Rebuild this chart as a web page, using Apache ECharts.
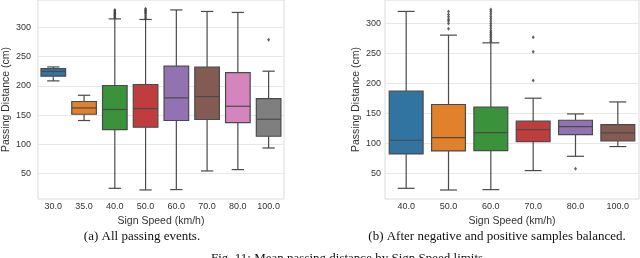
<!DOCTYPE html>
<html><head><meta charset="utf-8">
<script src="https://cdn.jsdelivr.net/npm/echarts@6/dist/echarts.min.js"></script>
<style>html,body{margin:0;padding:0;background:#fff}#c{width:640px;height:258px}</style>
</head><body><div id="c"></div>
<script>
// ---- Panel (a): all passing events ----
const categoriesA = ['30.0','35.0','40.0','50.0','60.0','70.0','80.0','100.0'];
const lowA    = [208.6, 140.8, 24.8, 22.0, 22.6, 54.5, 56.8, 93.8];
const q1A     = [216.6, 151.5, 125.3, 129.3, 140.8, 142.5, 137.3, 113.9];
const medA    = [225.0, 162.3, 159.6, 161.3, 179.5, 181.8, 165.2, 143.0];
const q3A     = [229.8, 173.3, 200.7, 202.4, 233.7, 232.0, 222.9, 178.4];
const highA   = [232.5, 184.0, 314.7, 313.7, 330.0, 327.4, 325.7, 225.2];
const outliersA = [
  [2,316],[2,318],[2,320],[2,322],[2,324],[2,326],[2,328],[2,330],
  [3,315],[3,318],[3,321],[3,324],[3,326],[3,328],[3,330],[3,332],
  [7,279]
];
// ---- Panel (b): balanced samples ----
const categoriesB = ['40.0','50.0','60.0','70.0','80.0','100.0'];
const lowB    = [25.5, 22.7, 23.3, 55.0, 78.8, 95.0];
const q1B     = [82.7, 87.7, 88.3, 103.3, 115.0, 104.3];
const medB    = [105.5, 110.0, 118.3, 123.3, 128.3, 117.7];
const q3B     = [187.2, 165.0, 160.5, 137.2, 138.8, 131.6];
const highB   = [320.0, 280.5, 267.7, 175.5, 149.3, 169.3];
const outliersB = [
  [1,291],[1,300],[1,304],[1,307],[1,311],[1,315],[1,320],
  [2,270],[2,273],[2,276],[2,279],[2,282],[2,285],[2,288],[2,292],[2,296],[2,300],[2,304],[2,308],[2,312],[2,316],[2,320],[2,323],
  [3,205],[3,253],[3,277],
  [4,58]
];
const yTicks = [50,100,150,200,250,300];

const palette = ['#3274a1','#e1812c','#3a923a','#c03d3e','#9372b2','#845b53','#d684bd','#7f7f7f'];
const lineColor = '#4a4a4a';

function boxData(low,q1,med,q3,high){
  return low.map((v,i)=>[i, v, q1[i], med[i], q3[i], high[i]]);
}
function renderBox(params, api){
  const i = api.value(0);
  const pLow = api.coord([i, api.value(1)]);
  const pQ1 = api.coord([i, api.value(2)]);
  const pMed = api.coord([i, api.value(3)]);
  const pQ3 = api.coord([i, api.value(4)]);
  const pHigh = api.coord([i, api.value(5)]);
  const w = api.size([1,0])[0]*0.8;
  const x = pQ1[0];
  const ls = {stroke: lineColor, lineWidth: 1.2};
  return {type:'group', children:[
    {type:'line', shape:{x1:x,y1:pLow[1],x2:x,y2:pQ1[1]}, style:ls},
    {type:'line', shape:{x1:x,y1:pQ3[1],x2:x,y2:pHigh[1]}, style:ls},
    {type:'line', shape:{x1:x-w/4,y1:pLow[1],x2:x+w/4,y2:pLow[1]}, style:ls},
    {type:'line', shape:{x1:x-w/4,y1:pHigh[1],x2:x+w/4,y2:pHigh[1]}, style:ls},
    {type:'rect', shape:{x:x-w/2,y:pQ3[1],width:w,height:pQ1[1]-pQ3[1]}, style:{fill:palette[i], stroke:lineColor, lineWidth:1.2}},
    {type:'line', shape:{x1:x-w/2,y1:pMed[1],x2:x+w/2,y2:pMed[1]}, style:ls}
  ]};
}

const font = 'Liberation Sans, Arial, sans-serif';
function xAxisCfg(cats, gi){
  return {type:'category', gridIndex:gi, data:cats, boundaryGap:true,
    axisLine:{show:false}, axisTick:{show:false}, splitLine:{show:false},
    axisLabel:{fontSize:9, color:'#333', fontFamily:font, margin:3},
    name:'Sign Speed (km/h)', nameLocation:'middle', nameGap:9,
    nameTextStyle:{fontSize:10.5, color:'#333', fontFamily:font}};
}
function yAxisCfg(min,max,gi,margin,gap){
  return {type:'value', gridIndex:gi, min:min, max:max,
    axisLine:{show:false}, axisTick:{show:false, customValues:yTicks},
    axisLabel:{fontSize:9, color:'#333', fontFamily:font, margin:margin, customValues:yTicks},
    splitLine:{show:true, lineStyle:{color:'#e8e8e8', width:1}},
    name:'Passing Distance (cm)', nameLocation:'middle', nameGap:gap, nameRotate:90,
    nameTextStyle:{fontSize:10.5, color:'#333', fontFamily:font}};
}

const chart = echarts.init(document.getElementById('c'), null, {renderer:'canvas'});
chart.setOption({
  animation:false,
  backgroundColor:'#fff',
  grid:[
    {left:31, top:0, width:253, height:199, show:true, borderColor:'#dcdcdc', borderWidth:1, backgroundColor:'transparent'},
    {left:385, top:0, width:254, height:199, show:true, borderColor:'#dcdcdc', borderWidth:1, backgroundColor:'transparent'}
  ],
  xAxis:[xAxisCfg(categoriesA,0), xAxisCfg(categoriesB,1)],
  yAxis:[yAxisCfg(6.5,347,0,7,20), yAxisCfg(7.7,339,1,4,18)],
  series:[
    {type:'custom', xAxisIndex:0, yAxisIndex:0, renderItem:renderBox, data:boxData(lowA,q1A,medA,q3A,highA), encode:{x:0,y:[1,2,3,4,5]}, z:2},
    {type:'scatter', xAxisIndex:0, yAxisIndex:0, data:outliersA, symbol:'diamond', symbolSize:[3,4], itemStyle:{color:'#3d3d3d'}, z:3},
    {type:'custom', xAxisIndex:1, yAxisIndex:1, renderItem:renderBox, data:boxData(lowB,q1B,medB,q3B,highB), encode:{x:0,y:[1,2,3,4,5]}, z:2},
    {type:'scatter', xAxisIndex:1, yAxisIndex:1, data:outliersB, symbol:'diamond', symbolSize:[3,4], itemStyle:{color:'#3d3d3d'}, z:3}
  ],
  graphic:[
    {type:'text', x:142, y:237, style:{text:'(a) All passing events.', font:'13px "Liberation Serif", "Times New Roman", serif', fill:'#111', textAlign:'center', textVerticalAlign:'middle'}},
    {type:'text', x:497, y:237, style:{text:'(b) After negative and positive samples balanced.', font:'13px "Liberation Serif", "Times New Roman", serif', fill:'#111', textAlign:'center', textVerticalAlign:'middle'}},
    {type:'text', x:211, y:259, style:{text:'Fig. 11: Mean passing distance by Sign Speed limits.', font:'13px "Liberation Serif", "Times New Roman", serif', fill:'#111', textAlign:'left', textVerticalAlign:'middle'}}
  ]
});
</script></body></html>
